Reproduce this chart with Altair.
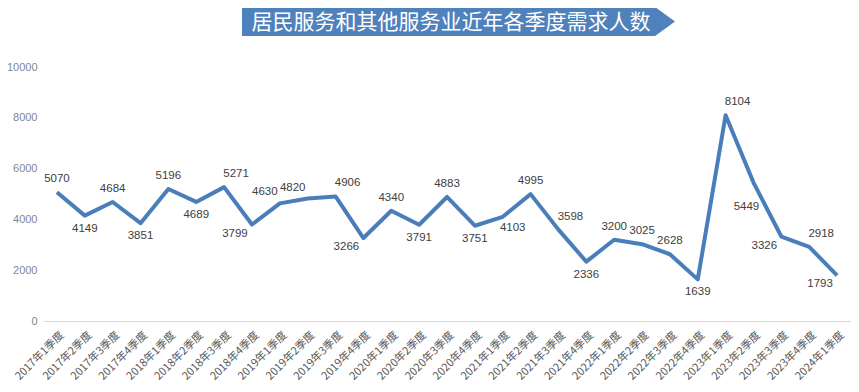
import altair as alt
import pandas as pd

title_text = "居民服务和其他服务业近年各季度需求人数"

quarters = [
    "2017年1季度", "2017年2季度", "2017年3季度", "2017年4季度",
    "2018年1季度", "2018年2季度", "2018年3季度", "2018年4季度",
    "2019年1季度", "2019年2季度", "2019年3季度", "2019年4季度",
    "2020年1季度", "2020年2季度", "2020年3季度", "2020年4季度",
    "2021年1季度", "2021年2季度", "2021年3季度", "2021年4季度",
    "2022年1季度", "2022年2季度", "2022年3季度", "2022年4季度",
    "2023年1季度", "2023年2季度", "2023年3季度", "2023年4季度",
    "2024年1季度",
]

demand = [
    5070, 4149, 4684, 3851,
    5196, 4689, 5271, 3799,
    4630, 4820, 4906, 3266,
    4340, 3791, 4883, 3751,
    4103, 4995, 3598, 2336,
    3200, 3025, 2628, 1639,
    8104, 5449, 3326, 2918,
    1793,
]

# data-label placement (like Excel's label position setting)
label_pos = [
    "above", "below", "above", "below",
    "above", "below", "above-right", "below-left",
    "above-left", "above-left", "above-right", "below-left",
    "above", "below", "above", "below",
    "below-right", "above", "above-right", "below",
    "above", "above", "above", "below",
    "above-right", "far-below", "below-left", "above-right",
    "below-left",
]

y_ticks = [0, 2000, 4000, 6000, 8000, 10000]

# pixel offsets for each placement style
placement_style = {
    "above": (0, -13),
    "below": (0, 13),
    "above-right": (12, -13),
    "above-left": (-15, -11),
    "below-right": (10, 11),
    "below-left": (-17, 9),
    "far-below": (-7, 24),
}

df = pd.DataFrame({"quarter": quarters, "demand": demand, "pos": label_pos})

x_enc = alt.X(
    "quarter:N",
    sort=quarters,
    scale=alt.Scale(type="point", padding=0.5),
    axis=alt.Axis(
        title=None,
        labelAngle=315,
        labelAlign="right",
        labelBaseline="middle",
        labelPadding=12,
        labelOffset=5,
        labelFont="Noto Sans CJK SC",
        labelFontSize=11,
        labelColor="#595959",
        ticks=False,
        domain=True,
        domainColor="#d9d9d9",
        domainWidth=1,
        grid=False,
    ),
)
y_enc = alt.Y(
    "demand:Q",
    scale=alt.Scale(domain=[0, 10000], nice=False),
    axis=alt.Axis(
        title=None,
        values=y_ticks,
        format="d",
        labelFont="Liberation Sans",
        labelFontSize=11,
        labelColor="#7f8796",
        labelPadding=6,
        ticks=False,
        domain=False,
        grid=False,
    ),
)

base = alt.Chart(df)

line = base.mark_line(color="#4a7ebb", strokeWidth=4, strokeJoin="round").encode(
    x=x_enc, y=y_enc
)

label_layers = []
for name, (dx, dy) in placement_style.items():
    label_layers.append(
        base.transform_filter(alt.datum.pos == name)
        .mark_text(
            dx=dx,
            dy=dy,
            font="Liberation Sans",
            fontSize=11.5,
            color="#404040",
            baseline="middle",
            align="center",
        )
        .encode(x=x_enc, y=y_enc, text="demand:Q")
    )

title_df = pd.DataFrame({"t": [title_text]})
banner_path = "M-1,-0.067L0.908,-0.067L1,0L0.908,0.067L-1,0.067Z"
banner = alt.Chart(title_df).mark_point(
    shape=banner_path,
    size=433 * 433,
    filled=True,
    color="#4f81bd",
    opacity=1,
    strokeWidth=0,
).encode(x=alt.value(415.5), y=alt.value(-45.5))

title = alt.Chart(title_df).mark_text(
    font="Noto Sans CJK SC",
    fontSize=21,
    fontWeight="normal",
    color="white",
    align="center",
    baseline="middle",
).encode(x=alt.value(408), y=alt.value(-44), text="t:N")

chart = (
    alt.layer(line, *label_layers, banner, title)
    .properties(
        width=808,
        height=254,
        padding={"left": 35, "top": 59, "right": 0, "bottom": 63},
        autosize="none",
        background="white",
    )
    .configure_view(strokeWidth=0, stroke="transparent")
    .configure_axis(grid=False)
)

chart.save("out.html", embed_options={"renderer": "svg", "actions": False})
